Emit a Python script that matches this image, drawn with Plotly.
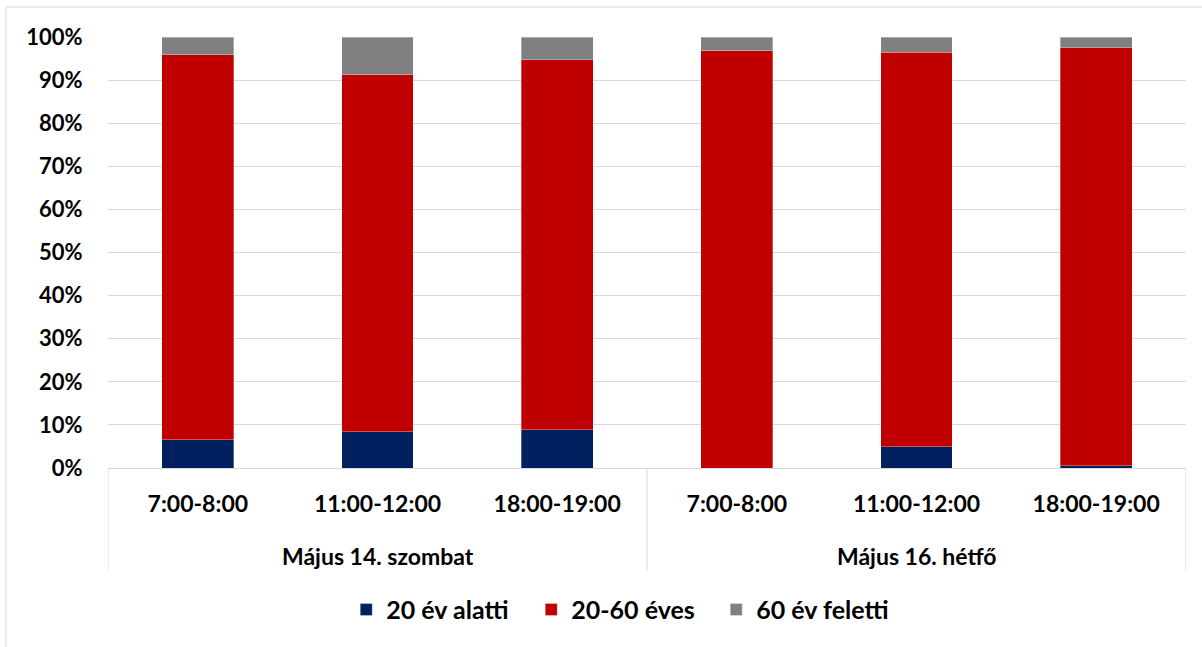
import plotly.graph_objects as go

days = ["Május 14. szombat", "Május 16. hétfő"]
hours = ["7:00-8:00", "11:00-12:00", "18:00-19:00"] * 2
under20 = [6.6, 8.4, 8.9, 0.0, 4.9, 0.5]
over60 = [4.1, 8.7, 5.3, 3.2, 3.5, 2.5]
mid = [round(100 - a - b, 1) for a, b in zip(under20, over60)]
pos = list(range(len(hours)))

series = [
    ("20 év alatti", under20, "#002060"),
    ("20-60 éves", mid, "#C00000"),
    ("60 év feletti", over60, "#808080"),
]

font = "Lato, 'Open Sans', Arial, sans-serif"
fig = go.Figure()
for name, vals, col in series:
    fig.add_trace(go.Bar(
        x=pos, y=vals, name=name,
        marker=dict(color=col, line=dict(color="rgba(255,255,255,0.45)", width=0.7)),
    ))

grid = "#d9d9d9"
shapes = [dict(type="rect", xref="paper", yref="paper", x0=-0.0946, x1=1.2, y0=-0.7, y1=1.0696,
               line=dict(color=grid, width=1))]
for xv in (-0.5, 2.5, 5.5):
    shapes.append(dict(type="line", xref="x", yref="paper", x0=xv, x1=xv, y0=0, y1=-0.239,
                       line=dict(color=grid, width=1)))

annotations = [
    dict(text=days[0], xref="x", yref="paper", x=1, y=-0.204, showarrow=False,
         yanchor="middle", font=dict(family=font, size=23, color="black", weight="bold")),
    dict(text=days[1], xref="x", yref="paper", x=4, y=-0.204, showarrow=False,
         yanchor="middle", font=dict(family=font, size=23, color="black", weight="bold")),
]

fig.update_layout(
    barmode="stack", bargap=0.6,
    width=1202, height=647,
    margin=dict(l=108, r=16, t=37, b=179, autoexpand=False),
    paper_bgcolor="white", plot_bgcolor="white",
    font=dict(family=font, size=22, color="black"),
    showlegend=True,
    legend=dict(orientation="h", x=0.221, xanchor="left", y=-0.329, yanchor="middle",
                entrywidth=140, entrywidthmode="pixels",
                font=dict(family=font, size=25, color="black", weight="bold"),
                traceorder="normal"),
    shapes=shapes, annotations=annotations,
)
fig.update_yaxes(range=[0, 100], tickvals=list(range(0, 101, 10)),
                 ticktext=[f"{v}%" for v in range(0, 101, 10)],
                 showgrid=True, gridcolor=grid, gridwidth=1,
                 zeroline=False, showline=False, ticks="outside", ticklen=20, tickcolor="rgba(0,0,0,0)",
                 automargin=False,
                 tickfont=dict(family=font, size=22, color="black", weight="bold"))
fig.update_xaxes(range=[-0.5, 5.5], tickvals=pos, ticktext=hours,
                 showline=True, linecolor=grid, linewidth=1, showgrid=False, zeroline=False,
                 ticks="outside", ticklen=15, tickcolor="rgba(0,0,0,0)", automargin=False,
                 tickfont=dict(family=font, size=23, color="black", weight="bold"))

fig.write_html("out.html", config={"displayModeBar": False},
               post_script="document.body.style.margin='0px';")
